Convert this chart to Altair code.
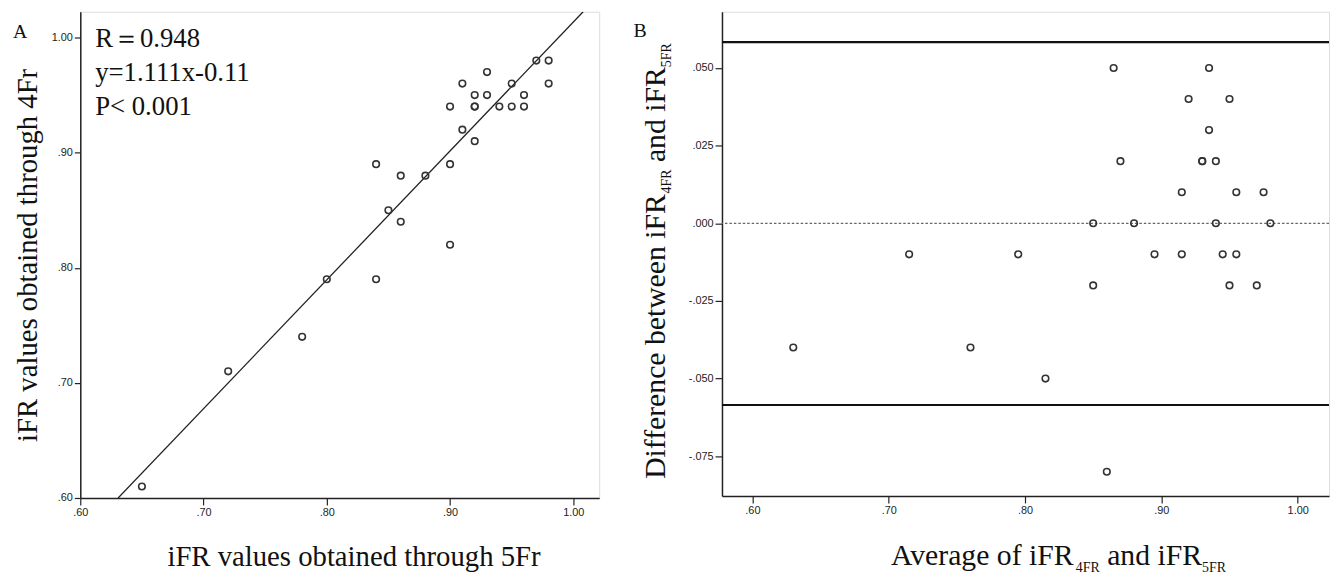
import altair as alt
import pandas as pd

# ---------------- data ----------------
# Panel A: iFR through 5Fr (x) vs through 4Fr (y)
ifr_5fr = [0.65, 0.72, 0.78, 0.80, 0.84, 0.84, 0.85, 0.86, 0.86, 0.88,
           0.90, 0.90, 0.90, 0.91, 0.91, 0.92, 0.92, 0.92, 0.92, 0.93,
           0.93, 0.94, 0.95, 0.95, 0.96, 0.96, 0.97, 0.98, 0.98]
ifr_4fr = [0.61, 0.71, 0.74, 0.79, 0.79, 0.89, 0.85, 0.88, 0.84, 0.88,
           0.82, 0.89, 0.94, 0.96, 0.92, 0.95, 0.94, 0.94, 0.91, 0.97,
           0.95, 0.94, 0.96, 0.94, 0.95, 0.94, 0.98, 0.98, 0.96]
# fitted line (end points)
fit_x = [0.6307, 1.008]
fit_y = [0.600, 1.0224]
stats_lines = ["R\uff1d0.948", "y=1.111x-0.11", "P< 0.001"]

# Panel B: Bland-Altman
avg_ifr = [0.865, 0.935, 0.920, 0.950, 0.935, 0.870, 0.930, 0.930, 0.940, 0.915,
           0.955, 0.975, 0.850, 0.880, 0.940, 0.980, 0.715, 0.795, 0.895, 0.915,
           0.945, 0.955, 0.850, 0.950, 0.970, 0.630, 0.760, 0.815, 0.860]
diff_ifr = [0.05, 0.05, 0.04, 0.04, 0.03, 0.02, 0.02, 0.02, 0.02, 0.01,
            0.01, 0.01, 0.00, 0.00, 0.00, 0.00, -0.01, -0.01, -0.01, -0.01,
            -0.01, -0.01, -0.02, -0.02, -0.02, -0.04, -0.04, -0.05, -0.08]
loa_limits = [0.0583, -0.0585]
zero_ref = [0.0]

x_ticks = [0.6, 0.7, 0.8, 0.9, 1.0]
yA_ticks = [0.6, 0.7, 0.8, 0.9, 1.0]
yB_ticks = [-0.075, -0.05, -0.025, 0.0, 0.025, 0.05]

# ---------------- styling ----------------
SERIF = "Liberation Serif"
SANS = "Liberation Sans"
BG = "#F4F3F4"
WA, HA = 524, 491
WB, HB = 613, 489

# Times / Liberation Serif advance widths (em) for title layout
TW = {' ': 0.25, 'A': 0.722, 'v': 0.5, 'e': 0.444, 'r': 0.333, 'a': 0.444, 'g': 0.5,
      'o': 0.5, 'f': 0.333, 'i': 0.278, 'F': 0.556, 'R': 0.667, 'n': 0.5, 'd': 0.5,
      '4': 0.5, '5': 0.5, 'D': 0.722, 'c': 0.444, 'b': 0.5, 't': 0.278, 'w': 0.722}


def tw(s, size):
    return sum(TW.get(c, 0.5) for c in s) * size


one = pd.DataFrame({"k": [0]})

exprA = "datum.value >= 1 ? format(datum.value, '.2f') : substring(format(datum.value, '.2f'), 1)"
exprB = ("datum.value < 0 ? '-' + substring(format(-datum.value, '.3f'), 1) : "
         "substring(format(datum.value, '.3f'), 1)")


def axis(values, expr, tick=6):
    return alt.Axis(values=values, labelExpr=expr, title=None, grid=False,
                    labelFont=SANS, labelFontSize=11, labelColor="#222",
                    tickColor="#222", tickSize=tick, tickWidth=1.2,
                    domainColor="#222", domainWidth=1.5, labelPadding=2,
                    labelFlush=False, labelOverlap=False)


def label(text, x, y, size, angle=0, align="left"):
    return alt.Chart(one).mark_text(
        text=text, font=SERIF, fontSize=size, angle=angle, align=align,
        baseline="alphabetic", color="#111"
    ).encode(x=alt.value(x), y=alt.value(y))


# ---------------- panel A ----------------
xA = alt.Scale(domain=[0.60, 1.021], nice=False, zero=False)
yA = alt.Scale(domain=[0.60, 1.0224], nice=False, zero=False)
axA_x = axis(x_ticks, exprA, 7)
axA_y = axis(yA_ticks, exprA, 6)

dfA = pd.DataFrame({"x": ifr_5fr, "y": ifr_4fr})
dfFit = pd.DataFrame({"x": fit_x, "y": fit_y})

ptsA = alt.Chart(dfA).mark_point(shape="circle", filled=False, size=44,
                                 strokeWidth=1.6, color="#333", opacity=1).encode(
    x=alt.X("x:Q", scale=xA, axis=axA_x),
    y=alt.Y("y:Q", scale=yA, axis=axA_y))
fitA = alt.Chart(dfFit).mark_line(color="#222", strokeWidth=1.3, clip=True).encode(
    x=alt.X("x:Q", scale=xA, axis=axA_x),
    y=alt.Y("y:Q", scale=yA, axis=axA_y))
statsA = alt.Chart(one).mark_text(
    text=stats_lines, font=SERIF, fontSize=27, align="left", baseline="alphabetic",
    lineHeight=34.5, color="#111").encode(x=alt.value(15), y=alt.value(35.5))

chartA = alt.layer(
    fitA, ptsA, statsA,
    label("A", -68, 26, 20),
    label("iFR values obtained through 4Fr", -44, 246, 29, angle=270, align="center"),
    label("iFR values obtained through 5Fr", 88, 559.4, 29),
).properties(width=WA, height=HA)

# ---------------- panel B ----------------
xB = alt.Scale(domain=[0.5777, 1.023], nice=False, zero=False)
yB = alt.Scale(domain=[-0.0878, 0.0681], nice=False, zero=False)
axB_x = axis(x_ticks, exprA, 7)
axB_y = axis(yB_ticks, exprB, 7)

dfB = pd.DataFrame({"m": avg_ifr, "d": diff_ifr})
ptsB = alt.Chart(dfB).mark_point(shape="circle", filled=False, size=44,
                                 strokeWidth=1.6, color="#333", opacity=1).encode(
    x=alt.X("m:Q", scale=xB, axis=axB_x),
    y=alt.Y("d:Q", scale=yB, axis=axB_y))
loaB = alt.Chart(pd.DataFrame({"d": loa_limits})).mark_rule(
    color="#111", strokeWidth=2.2).encode(y=alt.Y("d:Q", scale=yB, axis=axB_y))
zeroB = alt.Chart(pd.DataFrame({"d": zero_ref})).mark_rule(
    color="#666", strokeWidth=1.2, strokeDash=[2.5, 2]).encode(
    y=alt.Y("d:Q", scale=yB, axis=axB_y))

# composed x title with subscripts
xt_layers = []
cx = 170.7
base_y = 558.4
for txt, size, dy, pre in [("Average of iFR", 30, 0, 0), ("4FR", 14, 7, 0),
                           ("and iFR", 30, 0, 0.25 * 30), ("5FR", 14, 7, 0)]:
    cx += pre
    xt_layers.append(label(txt, cx, base_y + dy, size))
    cx += tw(txt, size)

# composed y title (rotated) with subscripts
yt_layers = []
cy = 471.7
base_x = -58
for txt, size, dx, pre in [("Difference between iFR", 30, 0, 0), ("4FR", 14, 7, 0),
                           ("and iFR", 30, 0, 0.25 * 30), ("5FR", 14, 7, 0)]:
    cy -= pre
    yt_layers.append(label(txt, base_x + dx, cy, size, angle=270))
    cy -= tw(txt, size)

chartB = alt.layer(
    zeroB, loaB, ptsB,
    label("B", -89.3, 25, 20),
    *xt_layers, *yt_layers,
).properties(width=WB, height=HB)

chart = alt.hconcat(chartA, chartB, spacing=33).properties(
    padding={"left": 4, "top": 0, "right": 0, "bottom": 0}
).configure_view(fill=BG, stroke="#666", strokeWidth=1.5).configure(background="white")

chart.save("out.html", embed_options={"renderer": "svg", "actions": False})
